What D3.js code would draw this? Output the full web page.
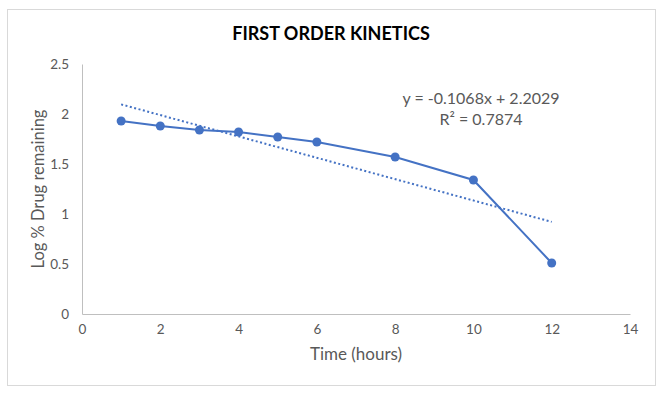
<!DOCTYPE html>
<html>
<head>
<meta charset="utf-8">
<script src="https://cdn.jsdelivr.net/npm/d3@7"></script>
<style>
  body { margin: 0; background: #fff; }
  text { font-family: Lato, Carlito, Calibri, sans-serif; }
</style>
</head>
<body>
<script>
// data
var hours = [1, 2, 3, 4, 5, 6, 8, 10, 12];
var logDrug = [1.93, 1.88, 1.84, 1.82, 1.77, 1.72, 1.57, 1.34, 0.51];
var xTicks = [0, 2, 4, 6, 8, 10, 12, 14];
var yTicks = [0, 0.5, 1, 1.5, 2, 2.5];
var slope = -0.1068, intercept = 2.2029;
var eqLines = ["y = -0.1068x + 2.2029", "R² = 0.7874"];

var W = 662, H = 394;
var margin = {top: 64, left: 82},
    width = 630 - margin.left,
    height = 314 - margin.top;

var svg = d3.select("body").append("svg")
    .attr("width", W)
    .attr("height", H);

// chart border
svg.append("rect")
    .attr("x", 7.5).attr("y", 9.5)
    .attr("width", 648).attr("height", 376)
    .attr("fill", "#fff")
    .attr("stroke", "#d9d9d9");

var g = svg.append("g")
    .attr("transform", "translate(" + margin.left + "," + margin.top + ")");

var x = d3.scaleLinear().domain([0, 14]).range([0, width]);
var y = d3.scaleLinear().domain([0, 2.5]).range([height, 0]);

// axes
var xAxis = g.append("g")
    .attr("transform", "translate(0," + height + ")")
    .call(d3.axisBottom(x).tickValues(xTicks).tickSize(0).tickPadding(10));
var yAxis = g.append("g")
    .call(d3.axisLeft(y).tickValues(yTicks).tickSize(0).tickPadding(13).tickFormat(d3.format("")));

[xAxis, yAxis].forEach(function(a) {
  a.select(".domain").attr("stroke", "#bfbfbf").attr("stroke-width", 1);
  a.selectAll("text").attr("fill", "#595959").style("font-size", "13.5px");
});

// trendline
var trend = d3.line()
    .x(function(d) { return x(d); })
    .y(function(d) { return y(slope * d + intercept); });
g.append("path")
    .datum([hours[0], hours[hours.length - 1]])
    .attr("d", trend)
    .attr("fill", "none")
    .attr("stroke", "#4472C4")
    .attr("stroke-width", 2)
    .attr("stroke-dasharray", "2,2.5");

// data line
var pts = hours.map(function(h, i) { return [h, logDrug[i]]; });
g.append("path")
    .datum(pts)
    .attr("d", d3.line()
        .x(function(d) { return x(d[0]); })
        .y(function(d) { return y(d[1]); }))
    .attr("fill", "none")
    .attr("stroke", "#4472C4")
    .attr("stroke-width", 2);

g.selectAll(".pt")
    .data(pts)
  .enter().append("circle")
    .attr("class", "pt")
    .attr("cx", function(d) { return x(d[0]); })
    .attr("cy", function(d) { return y(d[1]); })
    .attr("r", 4.5)
    .attr("fill", "#4472C4");

// title
svg.append("text")
    .attr("x", 331).attr("y", 40)
    .attr("text-anchor", "middle")
    .style("font-size", "18px")
    .style("font-weight", "bold")
    .attr("fill", "#000")
    .text("FIRST ORDER KINETICS");

// axis titles
svg.append("text")
    .attr("x", 356).attr("y", 360)
    .attr("text-anchor", "middle")
    .style("font-size", "17px")
    .attr("fill", "#595959")
    .text("Time (hours)");

svg.append("text")
    .attr("transform", "translate(44,189) rotate(-90)")
    .attr("text-anchor", "middle")
    .style("font-size", "16.5px")
    .attr("fill", "#595959")
    .text("Log % Drug remaining");

// equation label
svg.selectAll(".eq")
    .data(eqLines)
  .enter().append("text")
    .attr("class", "eq")
    .attr("x", 481)
    .attr("y", function(d, i) { return 104 + i * 21; })
    .attr("text-anchor", "middle")
    .style("font-size", "16px")
    .attr("fill", "#595959")
    .text(function(d) { return d; });
</script>
</body>
</html>
